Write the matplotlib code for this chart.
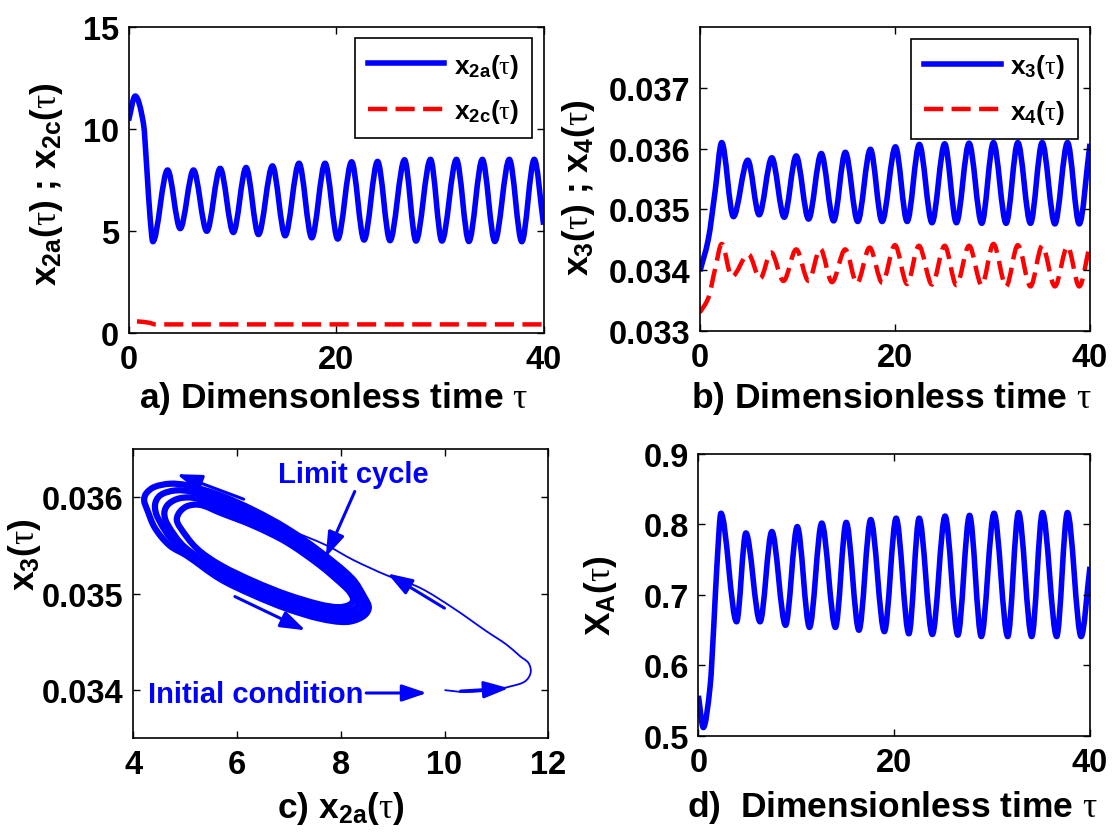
import numpy as np
import matplotlib
matplotlib.use("Agg")
import matplotlib.pyplot as plt
from matplotlib.path import Path
from matplotlib.patches import PathPatch
from matplotlib.lines import Line2D

# ---------------- data ----------------
# (a) anode/cathode states vs dimensionless time (local extrema of the response)
tau_x2a = [0.0, 0.64, 1.44, 1.77, 2.09, 2.34, 3.76, 4.98, 6.26, 7.54, 8.83, 10.1,
           11.33, 12.52, 13.87, 15.09, 16.43, 17.66, 18.94, 20.16, 21.5, 22.7, 24.0,
           25.2, 26.6, 27.7, 29.1, 30.2, 31.6, 32.8, 34.1, 35.3, 36.7, 37.9, 39.1, 40.0]
x2a = [10.4, 11.6, 10.24, 7.98, 5.56, 4.47, 7.98, 5.11, 7.98, 4.98, 8.06, 4.92,
       8.10, 4.82, 8.18, 4.76, 8.31, 4.66, 8.31, 4.60, 8.38, 4.55, 8.40,
       4.52, 8.48, 4.50, 8.50, 4.50, 8.50, 4.48, 8.50, 4.48, 8.50, 4.47, 8.50, 5.3]
tau_x2c = [0.0, 1.0, 2.0, 2.6, 40.0]
x2c = [0.60, 0.56, 0.50, 0.42, 0.42]

# (b) x3 and x4 vs dimensionless time
tau_x3 = [0.0, 0.86, 1.54, 2.23, 3.43, 4.9, 6.07, 7.37, 8.64, 9.87, 11.14, 12.44,
          13.71, 14.91, 16.18, 17.48, 18.68, 20.05, 21.25, 22.5, 23.8, 25.1, 26.3,
          27.6, 28.9, 30.1, 31.4, 32.6, 33.9, 35.1, 36.4, 37.7, 38.9, 40.0]
x3 = [0.03398, 0.03451, 0.03528, 0.03610, 0.03488, 0.03581, 0.03491, 0.03585,
      0.03487, 0.03588, 0.03484, 0.03592, 0.03481, 0.03594, 0.03480, 0.03599,
      0.03480, 0.03603, 0.03480, 0.03607, 0.03478, 0.03608, 0.03478, 0.03609,
      0.03477, 0.03610, 0.03477, 0.03610, 0.03477, 0.03610, 0.03476, 0.03610,
      0.03476, 0.03608]
tau_x4 = [0.0, 0.86, 1.54, 2.23, 3.26, 4.97, 6.17, 7.3, 8.57, 9.87, 11.14, 12.34,
          13.54, 14.9, 16.1, 17.4, 18.7, 20.0, 21.25, 22.45, 23.8, 25.1, 26.3,
          27.6, 28.9, 30.1, 31.4, 32.6, 33.9, 35.1, 36.4, 37.7, 38.9, 40.0]
x4 = [0.03330, 0.03354, 0.03401, 0.03443, 0.03389, 0.03426, 0.03386, 0.03429,
      0.03382, 0.03434, 0.03382, 0.03435, 0.03380, 0.03434, 0.03378, 0.03437,
      0.03379, 0.03441, 0.03377, 0.03440, 0.03376, 0.03440, 0.03375, 0.03440,
      0.03375, 0.03443, 0.03373, 0.03441, 0.03373, 0.03440, 0.03373, 0.03439,
      0.03373, 0.03443]

# (c) phase portrait x3 vs x2a: transient from the initial condition ...
tr_x2a = [10.00, 10.40, 10.93, 11.28, 11.55, 11.66, 11.62, 11.46, 11.20, 10.81,
          10.17, 9.53, 8.89, 8.24, 7.73, 6.96, 6.32, 5.67, 5.10]
tr_x3 = [0.03400, 0.03398, 0.03400, 0.03404, 0.03409, 0.03418, 0.03428, 0.03435,
         0.03447, 0.03461, 0.03485, 0.03506, 0.03519, 0.03535, 0.03550, 0.03567,
         0.03579, 0.03594, 0.03607]
# ... and successive loops growing onto the limit cycle (inner -> outer)
loop1_x2a = [5.30, 5.05, 4.90, 4.84, 4.90, 5.22, 5.67, 6.32, 6.96, 7.60, 7.95,
             8.15, 8.24, 8.18, 8.05, 7.60, 6.96, 6.32, 5.67, 5.30]
loop1_x3 = [0.035920, 0.035910, 0.035850, 0.035770, 0.035690, 0.035472, 0.035300,
            0.035129, 0.034991, 0.034888, 0.034860, 0.034880, 0.034930, 0.035010,
            0.035085, 0.035292, 0.035532, 0.035704, 0.035841, 0.035920]
loop2_x2a = [5.20, 4.90, 4.68, 4.60, 4.66, 5.00, 5.67, 6.32, 6.96, 7.60, 8.00,
             8.25, 8.34, 8.27, 8.10, 7.60, 6.96, 6.32, 5.67, 5.20]
loop2_x3 = [0.035990, 0.035990, 0.035930, 0.035840, 0.035720, 0.035480, 0.035250,
            0.035080, 0.034942, 0.034839, 0.034808, 0.034840, 0.034905, 0.035000,
            0.035110, 0.035341, 0.035581, 0.035758, 0.035901, 0.035990]
loop3_x2a = [5.10, 4.80, 4.52, 4.42, 4.48, 4.80, 5.67, 6.32, 6.96, 7.60, 8.05,
             8.34, 8.44, 8.37, 8.16, 7.60, 6.96, 6.32, 5.67, 5.10]
loop3_x3 = [0.036060, 0.036070, 0.036020, 0.035920, 0.035780, 0.035530, 0.035202,
            0.035031, 0.034893, 0.034790, 0.034758, 0.034800, 0.034878, 0.034980,
            0.035135, 0.035390, 0.035630, 0.035812, 0.035962, 0.036060]
loop4_x2a = [5.03, 4.70, 4.40, 4.25, 4.21, 4.27, 4.42, 4.70, 5.03, 5.67, 6.32, 6.96,
             7.60, 8.11, 8.42, 8.54, 8.46, 8.22, 7.60, 6.96, 6.32, 5.67, 5.03]
loop4_x3 = [0.036125, 0.036140, 0.036105, 0.036040, 0.035970, 0.035870, 0.035680,
            0.035500, 0.035395, 0.035154, 0.034983, 0.034844, 0.034741, 0.034707,
            0.034760, 0.034850, 0.034960, 0.035159, 0.035438, 0.035678, 0.035867,
            0.036022, 0.036125]

# (d) conversion X_A vs dimensionless time
tau_xa = [0.0, 0.5, 1.2, 1.57, 1.93, 2.3, 3.9, 4.85, 6.3, 7.5, 8.9, 10.1, 11.35,
          12.6, 14.0, 15.1, 16.4, 17.6, 19.0, 20.2, 21.5, 22.55, 23.9, 25.2, 26.5,
          27.7, 28.9, 30.2, 31.6, 32.7, 34.05, 35.15, 36.6, 37.7, 39.1, 40.0]
xa = [0.557, 0.512, 0.571, 0.656, 0.751, 0.816, 0.662, 0.788, 0.662, 0.790, 0.657,
      0.797, 0.654, 0.802, 0.654, 0.803, 0.650, 0.807, 0.648, 0.809, 0.645, 0.809,
      0.644, 0.812, 0.643, 0.813, 0.641, 0.816, 0.641, 0.817, 0.641, 0.817, 0.641,
      0.817, 0.641, 0.74]

time_ticks = [0, 20, 40]

# ---------------- style ----------------
plt.rcParams['font.family'] = ['Liberation Sans', 'DejaVu Sans']
plt.rcParams['font.weight'] = 'bold'
plt.rcParams['axes.labelweight'] = 'bold'
plt.rcParams['mathtext.fontset'] = 'custom'
plt.rcParams['mathtext.rm'] = 'Liberation Serif:weight=normal'
plt.rcParams['mathtext.it'] = 'Liberation Serif:weight=normal'
plt.rcParams['mathtext.sf'] = 'Liberation Sans:bold'
plt.rcParams['mathtext.bf'] = 'Liberation Sans:bold'
plt.rcParams['axes.linewidth'] = 1.2

BLUE = '#0000FF'
RED = '#FF0000'
TICK_FS = 23.5
LABEL_FS = 25.5
LEG_FS = 19
T = r'$\tau$'
DASH = (0, (4.3, 1.9))
LW_BLUE = 4.0
LW_RED = 3.2


def time_curve(x, y):
    """Smooth monotone (Fritsch-Carlson) cubic path through the samples."""
    x = np.asarray(x, float)
    y = np.asarray(y, float)
    h = np.diff(x)
    d = np.diff(y) / h
    n = len(x)
    m = np.zeros(n)
    m[0], m[-1] = d[0], d[-1]
    for k in range(1, n - 1):
        if d[k - 1] * d[k] > 0:
            w1 = 2 * h[k] + h[k - 1]
            w2 = h[k] + 2 * h[k - 1]
            m[k] = (w1 + w2) / (w1 / d[k - 1] + w2 / d[k])
    verts = [(x[0], y[0])]
    codes = [Path.MOVETO]
    for k in range(n - 1):
        verts += [(x[k] + h[k] / 3, y[k] + m[k] * h[k] / 3),
                  (x[k + 1] - h[k] / 3, y[k + 1] - m[k + 1] * h[k] / 3),
                  (x[k + 1], y[k + 1])]
        codes += [Path.CURVE4] * 3
    return Path(verts, codes)


def orbit_curve(ax, xs, ys, closed):
    """Smooth Catmull-Rom style path through trajectory samples (screen metric)."""
    P = ax.transData.transform(np.column_stack([xs, ys]))
    if closed:
        P = P[:-1]
    n = len(P)
    tang = np.zeros_like(P)
    for i in range(n):
        if closed:
            a, b = P[(i - 1) % n], P[(i + 1) % n]
        else:
            a, b = P[max(i - 1, 0)], P[min(i + 1, n - 1)]
        v = b - a
        tang[i] = v / np.hypot(*v)
    verts = [P[0]]
    codes = [Path.MOVETO]
    for i in (range(n) if closed else range(n - 1)):
        j = (i + 1) % n
        L = np.hypot(*(P[j] - P[i]))
        verts += [P[i] + tang[i] * L / 3, P[j] - tang[j] * L / 3, P[j]]
        codes += [Path.CURVE4] * 3
    verts = ax.transData.inverted().transform(np.array(verts))
    return Path(verts, codes)


def draw(ax, path, color, lw, ls='solid'):
    ax.add_patch(PathPatch(path, fill=False, edgecolor=color, lw=lw, linestyle=ls,
                           joinstyle='round', capstyle='butt'))


def style_axes(ax):
    ax.tick_params(direction='in', top=True, right=True, length=5, width=1.0,
                   labelsize=TICK_FS, pad=7)
    ax.tick_params(axis='x', pad=8)


def legend(ax, labels):
    handles = [Line2D([], [], color=BLUE, lw=LW_BLUE),
               Line2D([], [], color=RED, lw=LW_RED, linestyle=DASH)]
    leg = ax.legend(handles, labels, loc='upper right', fontsize=LEG_FS,
                    handlelength=2.9, handletextpad=0.35, borderpad=0.5,
                    labelspacing=0.65, borderaxespad=0.45, fancybox=False,
                    framealpha=1.0, edgecolor='black')
    leg.get_frame().set_linewidth(1.2)
    return leg


fig = plt.figure(figsize=(11.13, 8.37), dpi=100)
ax_a = fig.add_axes([0.1155, 0.6010, 0.3729, 0.3660])
ax_b = fig.add_axes([0.6289, 0.6037, 0.3504, 0.3625])
ax_c = fig.add_axes([0.1197, 0.1167, 0.3729, 0.3456])
ax_d = fig.add_axes([0.6275, 0.1195, 0.3518, 0.3369])

# (a)
ax_a.set_xlim(0, 40)
ax_a.set_ylim(0, 15)
draw(ax_a, time_curve(tau_x2a, x2a), BLUE, LW_BLUE)
draw(ax_a, time_curve(tau_x2c, x2c), RED, LW_RED, (4.3, (4.3, 1.9)))
ax_a.set_xticks(time_ticks)
ax_a.set_yticks([0, 5, 10, 15])
style_axes(ax_a)
ax_a.set_xlabel('a) Dimensonless time ' + T, fontsize=LABEL_FS)
ax_a.set_ylabel('x$_{\\mathsf{2a}}$(' + T + ') ; x$_{\\mathsf{2c}}$(' + T + ')',
                fontsize=LABEL_FS)
ax_a.xaxis.set_label_coords(0.494, -0.15)
ax_a.yaxis.set_label_coords(-0.154, 0.49)
legend(ax_a, ['x$_{\\mathsf{2a}}$(' + T + ')', 'x$_{\\mathsf{2c}}$(' + T + ')'])

# (b)
ax_b.set_xlim(0, 40)
ax_b.set_ylim(0.033, 0.038)
draw(ax_b, time_curve(tau_x3, x3), BLUE, LW_BLUE)
draw(ax_b, time_curve(tau_x4, x4), RED, LW_RED, DASH)
ax_b.set_xticks(time_ticks)
ax_b.set_yticks([0.033, 0.034, 0.035, 0.036, 0.037])
ax_b.set_yticklabels(['0.033', '0.034', '0.035', '0.036', '0.037'])
style_axes(ax_b)
ax_b.set_xlabel('b) Dimensionless time ' + T, fontsize=LABEL_FS)
ax_b.set_ylabel('x$_{\\mathsf{3}}$(' + T + ') ; x$_{\\mathsf{4}}$(' + T + ')',
                fontsize=LABEL_FS)
ax_b.xaxis.set_label_coords(0.49, -0.16)
ax_b.yaxis.set_label_coords(-0.263, 0.473)
legend(ax_b, ['x$_{\\mathsf{3}}$(' + T + ')', 'x$_{\\mathsf{4}}$(' + T + ')'])

# (c) phase portrait
ax_c.set_xlim(4, 12)
ax_c.set_ylim(0.0335, 0.0365)
for lx, ly in [(loop1_x2a, loop1_x3), (loop2_x2a, loop2_x3),
               (loop3_x2a, loop3_x3), (loop4_x2a, loop4_x3)]:
    draw(ax_c, orbit_curve(ax_c, lx, ly, closed=True), BLUE, 4.5)
draw(ax_c, orbit_curve(ax_c, tr_x2a, tr_x3, closed=False), BLUE, 1.3)
ax_c.set_xticks([4, 6, 8, 10, 12])
ax_c.set_yticks([0.034, 0.035, 0.036])
ax_c.set_yticklabels(['0.034', '0.035', '0.036'])
style_axes(ax_c)
ax_c.set_xlabel('c) x$_{\\mathsf{2a}}$(' + T + ')', fontsize=LABEL_FS)
ax_c.set_ylabel('x$_{\\mathsf{3}}$(' + T + ')', fontsize=LABEL_FS)
ax_c.xaxis.set_label_coords(0.50, -0.175)
ax_c.yaxis.set_label_coords(-0.218, 0.637)

ax_c.text(8.25, 0.03624, 'Limit cycle', color=BLUE, fontsize=21,
          ha='center', va='center')
ax_c.text(4.29, 0.03396, 'Initial condition', color=BLUE, fontsize=21,
          ha='left', va='center')

arrow_kw = dict(arrowstyle='-|>,head_length=0.5,head_width=0.17', color=BLUE,
                lw=2.2, mutation_scale=30, shrinkA=0, shrinkB=0)
for tail, head in [((8.27, 0.03606), (7.71, 0.03538)),
                   ((8.49, 0.03397), (9.66, 0.03397)),
                   ((6.13, 0.03598), (4.84, 0.03624)),
                   ((5.96, 0.03497), (7.32, 0.03462)),
                   ((10.0, 0.03485), (8.90, 0.03521)),
                   ((10.31, 0.03399), (11.24, 0.03402))]:
    ax_c.annotate('', xy=head, xytext=tail, arrowprops=arrow_kw)

# (d)
ax_d.set_xlim(0, 40)
ax_d.set_ylim(0.5, 0.9)
draw(ax_d, time_curve(tau_xa, xa), BLUE, LW_BLUE)
ax_d.set_xticks(time_ticks)
ax_d.set_yticks([0.5, 0.6, 0.7, 0.8, 0.9])
style_axes(ax_d)
ax_d.set_xlabel('d)  Dimensionless time ' + T, fontsize=LABEL_FS)
ax_d.set_ylabel('X$_{\\mathsf{A}}$(' + T + ')', fontsize=LABEL_FS)
ax_d.xaxis.set_label_coords(0.495, -0.185)
ax_d.yaxis.set_label_coords(-0.2025, 0.50)

fig.savefig('out.png', dpi=100)
